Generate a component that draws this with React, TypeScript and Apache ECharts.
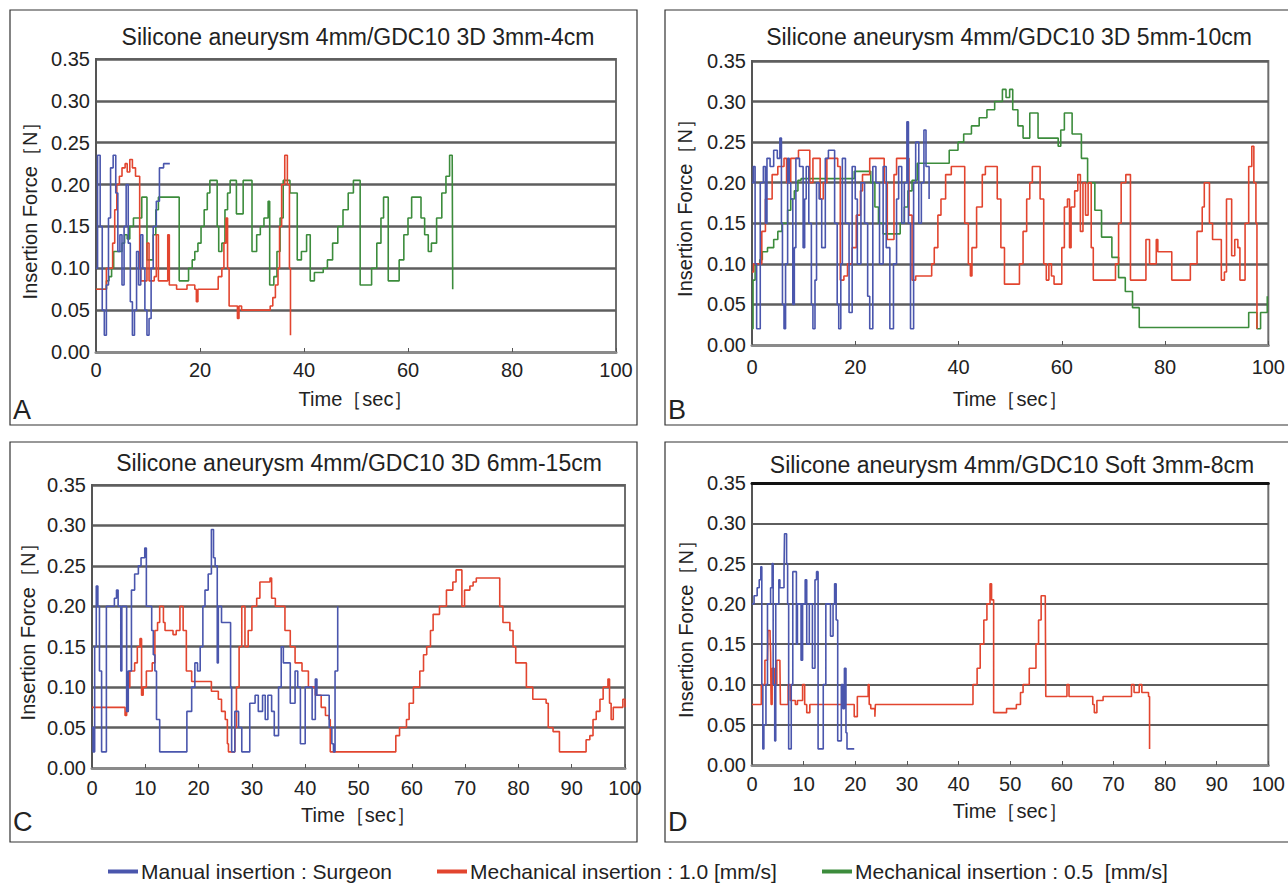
import React, { useEffect, useRef } from "react";
import * as echarts from "echarts";

type P = [number, number];

const TITLES = [
  "Silicone aneurysm 4mm/GDC10 3D 3mm-4cm",
  "Silicone aneurysm 4mm/GDC10 3D 5mm-10cm",
  "Silicone aneurysm 4mm/GDC10 3D 6mm-15cm",
  "Silicone aneurysm 4mm/GDC10 Soft 3mm-8cm",
];
const PANEL_LETTERS = ["A", "B", "C", "D"];
const SERIES_NAMES = [
  "Manual insertion : Surgeon",
  "Mechanical insertion : 1.0 [mm/s]",
  "Mechanical insertion : 0.5  [mm/s]",
];
const X_INTERVALS = [20, 20, 10, 10];

// Panel A
const A_MANUAL: P[] = [[0,0.1],[0.3,0.235],[0.8,0.15],[1.2,0.05],[1.6,0.02],[2.0,0.08],[2.4,0.16],[2.8,0.22],[3.3,0.235],[3.8,0.19],[4.2,0.12],[4.6,0.14],[5.0,0.08],[5.4,0.15],[5.8,0.2],[6.2,0.13],[6.6,0.06],[7.0,0.02],[7.4,0.05],[7.8,0.12],[8.2,0.08],[8.6,0.14],[9.0,0.1],[9.4,0.05],[9.8,0.02],[10.2,0.04],[10.6,0.1],[11.0,0.15],[11.6,0.18],[12.2,0.22],[12.6,0.22],[13.0,0.225],[14.2,0.225]];
const A_MECH10: P[] = [[0,0.075],[1.5,0.075],[2,0.1],[2.8,0.1],[3.2,0.13],[3.6,0.17],[4.0,0.2],[4.5,0.21],[5.0,0.22],[5.6,0.225],[6.0,0.215],[6.5,0.23],[7.0,0.22],[7.6,0.21],[8.0,0.21],[8.4,0.1],[8.6,0.085],[9.4,0.085],[9.8,0.13],[10.2,0.085],[11.2,0.09],[11.6,0.14],[12,0.085],[13.5,0.085],[13.8,0.14],[14.1,0.08],[15.5,0.075],[17.5,0.08],[18.5,0.08],[19,0.075],[19.3,0.06],[19.6,0.075],[23,0.075],[23.5,0.09],[24.2,0.1],[24.6,0.13],[25,0.16],[25.3,0.1],[25.6,0.055],[27,0.055],[27.2,0.04],[27.5,0.055],[28,0.05],[33.5,0.055],[34,0.065],[34.5,0.08],[35,0.1],[35.3,0.15],[35.7,0.2],[36.3,0.235],[36.8,0.2],[37.2,0.1],[37.4,0.02]];
const A_MECH05: P[] = [[0,0.075],[1.7,0.075],[2,0.085],[2.5,0.09],[3,0.1],[3.4,0.12],[4.5,0.12],[5,0.13],[5.5,0.14],[6,0.135],[6.5,0.15],[7.2,0.16],[8,0.16],[8.8,0.185],[9.6,0.185],[9.8,0.11],[10.5,0.11],[11,0.14],[11.5,0.17],[12,0.185],[15.8,0.185],[16,0.085],[17.4,0.085],[17.8,0.1],[18.5,0.11],[19,0.12],[19.6,0.13],[20.2,0.15],[20.8,0.17],[21.4,0.19],[21.9,0.205],[23.1,0.205],[23.3,0.15],[23.6,0.12],[24.2,0.13],[24.8,0.17],[25.3,0.19],[25.8,0.205],[26.8,0.205],[27.0,0.165],[28.0,0.165],[28.3,0.205],[29.8,0.205],[30,0.12],[30.9,0.14],[31.6,0.15],[32.3,0.16],[33.1,0.18],[33.4,0.08],[34.2,0.09],[34.8,0.12],[35.4,0.16],[36,0.205],[37.3,0.19],[38.5,0.19],[38.7,0.11],[39.5,0.12],[40.5,0.14],[41,0.14],[41.2,0.085],[42,0.095],[43,0.095],[43.7,0.1],[44.5,0.11],[45.5,0.13],[46.5,0.15],[47.5,0.17],[48.5,0.19],[49.5,0.205],[50.6,0.205],[50.8,0.08],[52.1,0.08],[53,0.1],[54,0.13],[54.8,0.16],[55.3,0.185],[56,0.185],[56.2,0.085],[57.5,0.085],[58.3,0.11],[59.2,0.14],[60,0.16],[60.7,0.185],[61.8,0.185],[62.5,0.16],[63.2,0.14],[63.9,0.12],[64.5,0.13],[65.5,0.16],[66.5,0.19],[67.3,0.21],[68,0.235],[68.5,0.235],[68.6,0.075]];

// Panel B
const B_MANUAL: P[] = [[0,0.2],[0.26,0.22],[0.6,0.1],[0.9,0.02],[1.2,0.02],[1.6,0.2],[2.2,0.22],[2.6,0.15],[2.9,0.23],[3.5,0.22],[4.2,0.24],[4.9,0.23],[5.4,0.255],[5.7,0.15],[5.9,0.05],[6.2,0.02],[6.5,0.1],[6.9,0.23],[7.2,0.2],[7.5,0.18],[7.9,0.05],[8.2,0.12],[8.5,0.23],[9.2,0.22],[9.9,0.12],[10.2,0.18],[10.5,0.22],[11,0.15],[11.5,0.05],[11.8,0.02],[12.2,0.08],[12.5,0.2],[13,0.18],[13.5,0.12],[14.2,0.23],[14.8,0.24],[15.5,0.24],[16,0.15],[16.5,0.05],[16.8,0.02],[17.2,0.1],[17.5,0.23],[18.1,0.15],[18.8,0.04],[19.4,0.22],[20,0.18],[20.4,0.1],[21.1,0.2],[21.8,0.15],[22.4,0.06],[22.8,0.02],[23.4,0.22],[24,0.2],[24.7,0.1],[25.4,0.22],[26,0.12],[26.7,0.02],[27.4,0.1],[28,0.18],[28.4,0.22],[29,0.15],[29.5,0.2],[30,0.275],[30.3,0.15],[30.7,0.02],[31.3,0.2],[31.7,0.25],[32.3,0.15],[32.8,0.2],[33.3,0.265],[33.7,0.22],[34.3,0.18]];
const B_MECH10: P[] = [[0,0.09],[0.3,0.1],[1.0,0.1],[1.9,0.14],[2.6,0.18],[3.6,0.18],[3.9,0.21],[5,0.22],[6.2,0.23],[6.7,0.2],[7.2,0.2],[7.5,0.23],[9,0.24],[10.8,0.24],[11.2,0.2],[11.8,0.23],[12.8,0.23],[13.2,0.18],[13.8,0.2],[14.5,0.23],[16.1,0.23],[16.6,0.22],[17.1,0.08],[17.8,0.085],[18.5,0.1],[19.4,0.12],[20.2,0.16],[21,0.19],[21.4,0.21],[22.8,0.23],[25.4,0.23],[25.6,0.2],[26.2,0.13],[27.1,0.13],[27.5,0.21],[28,0.23],[30,0.23],[30.4,0.16],[31.0,0.08],[31.7,0.085],[34.0,0.085],[34.8,0.1],[35.3,0.12],[36,0.16],[36.6,0.18],[37.5,0.21],[38.6,0.22],[40.6,0.22],[41.2,0.15],[41.9,0.1],[42.3,0.085],[42.6,0.12],[43.5,0.17],[44.6,0.21],[45.2,0.22],[46.9,0.22],[47.5,0.18],[48.2,0.12],[48.9,0.075],[51.2,0.075],[51.8,0.1],[52.5,0.14],[53.2,0.18],[53.8,0.2],[54.3,0.22],[55.2,0.22],[55.8,0.18],[56.5,0.1],[57,0.08],[57.5,0.1],[58,0.085],[58.5,0.075],[59.5,0.075],[60,0.12],[60.5,0.17],[61.1,0.18],[61.5,0.12],[61.8,0.17],[62.5,0.19],[63.1,0.21],[63.6,0.14],[64.1,0.2],[64.6,0.16],[65.1,0.2],[65.7,0.12],[66.1,0.08],[69.7,0.08],[70.4,0.1],[71,0.15],[71.5,0.2],[72.4,0.21],[73.0,0.21],[73.3,0.08],[76.0,0.08],[76.3,0.13],[77,0.1],[78,0.1],[78.3,0.13],[78.6,0.115],[81,0.115],[81.3,0.08],[84.3,0.08],[84.9,0.1],[86.2,0.14],[87.2,0.17],[87.6,0.2],[88.2,0.2],[88.6,0.15],[89.2,0.13],[90.5,0.13],[90.9,0.08],[91.5,0.09],[91.9,0.18],[92.5,0.18],[92.9,0.11],[93.5,0.13],[94.1,0.12],[94.5,0.08],[95.2,0.08],[95.5,0.15],[96.2,0.22],[96.8,0.245],[97.2,0.2],[97.6,0.15],[97.8,0.02]];
const B_MECH05: P[] = [[0,0.02],[0.2,0.08],[0.6,0.1],[1.5,0.105],[2,0.115],[3,0.12],[4.2,0.13],[5,0.14],[5.8,0.15],[6.9,0.166],[7.5,0.18],[8.2,0.19],[8.9,0.203],[9.5,0.205],[19.4,0.205],[19.8,0.214],[22.5,0.214],[23,0.2],[23.8,0.17],[24.5,0.15],[25.4,0.137],[28.0,0.137],[28.7,0.15],[29.5,0.17],[30.2,0.19],[31.0,0.203],[32.0,0.224],[37.3,0.224],[38.2,0.24],[39.9,0.25],[41,0.26],[42.5,0.27],[44,0.28],[45.5,0.29],[47,0.3],[48.5,0.315],[49.2,0.305],[49.9,0.315],[50.5,0.29],[51.5,0.27],[52.5,0.255],[53.2,0.255],[53.8,0.286],[54.8,0.286],[55.4,0.255],[59.1,0.255],[59.3,0.245],[59.8,0.265],[60.5,0.286],[61.3,0.286],[62,0.26],[63.8,0.23],[65,0.2],[66.4,0.166],[67.7,0.133],[69.7,0.108],[71,0.083],[72.3,0.066],[73.7,0.046],[75,0.0215],[95.8,0.0215],[96.2,0.04],[97.5,0.04],[97.8,0.02],[98.5,0.04],[99.8,0.06]];

// Panel C
const C_MANUAL: P[] = [[0,0.05],[0.2,0.02],[0.5,0.15],[0.8,0.225],[1.1,0.2],[1.4,0.12],[1.8,0.02],[2.4,0.02],[2.7,0.2],[3.5,0.2],[4.2,0.21],[4.6,0.22],[4.9,0.2],[5.4,0.12],[5.6,0.2],[6.0,0.2],[6.5,0.07],[6.8,0.12],[7.4,0.22],[8,0.24],[8.7,0.25],[9.2,0.26],[9.6,0.26],[9.9,0.272],[10.2,0.2],[10.8,0.2],[11.2,0.17],[11.5,0.14],[11.8,0.12],[12.1,0.06],[12.7,0.02],[17.4,0.02],[17.8,0.07],[18.7,0.1],[19.3,0.13],[19.8,0.12],[20.3,0.15],[20.8,0.2],[21.2,0.22],[21.8,0.24],[22.4,0.295],[22.8,0.26],[23.1,0.25],[23.5,0.13],[23.7,0.2],[24.3,0.18],[25.6,0.18],[26,0.1],[26.2,0.02],[26.8,0.07],[27.5,0.05],[28.1,0.02],[29.3,0.02],[29.6,0.08],[30.6,0.09],[31.2,0.07],[32,0.09],[32.5,0.06],[33,0.09],[33.7,0.07],[34.2,0.04],[34.7,0.04],[35.0,0.1],[35.5,0.15],[35.9,0.13],[36.9,0.13],[37.2,0.08],[38.1,0.12],[38.6,0.1],[39.1,0.03],[39.4,0.03],[40,0.1],[40.9,0.1],[41.3,0.06],[41.9,0.11],[42.2,0.09],[44.1,0.09],[44.5,0.05],[45,0.03],[45.3,0.02],[45.6,0.12],[46.1,0.2]];
const C_MECH10: P[] = [[0,0.075],[5.8,0.075],[6.2,0.065],[6.5,0.07],[6.8,0.1],[7.1,0.12],[8.0,0.13],[8.5,0.15],[9.0,0.16],[9.3,0.09],[9.6,0.1],[10.2,0.12],[10.8,0.12],[11.3,0.13],[11.8,0.17],[12.3,0.18],[12.7,0.2],[13.4,0.18],[13.7,0.17],[15.2,0.165],[15.8,0.17],[16.5,0.2],[17.1,0.17],[17.7,0.12],[18.7,0.107],[21.8,0.107],[22.4,0.095],[23.7,0.085],[24.3,0.07],[25.0,0.06],[25.4,0.03],[25.6,0.02],[26.2,0.02],[26.8,0.05],[27.1,0.1],[27.6,0.15],[28.1,0.2],[28.7,0.15],[29.3,0.17],[30.0,0.2],[30.9,0.21],[31.5,0.23],[33.1,0.23],[33.4,0.235],[33.7,0.21],[34.4,0.2],[35.6,0.2],[36.2,0.17],[37.2,0.15],[38.1,0.13],[39.4,0.12],[40.6,0.1],[41.9,0.09],[43,0.075],[43.8,0.065],[44.5,0.06],[44.7,0.02],[56.5,0.02],[57,0.04],[57.7,0.05],[59.0,0.06],[59.5,0.08],[60.3,0.1],[61.5,0.12],[62.2,0.14],[62.8,0.15],[63.5,0.17],[64,0.19],[65.2,0.2],[66.5,0.22],[67.7,0.23],[68.3,0.245],[69,0.245],[69.4,0.2],[69.9,0.22],[70.9,0.225],[71.5,0.23],[72.1,0.235],[75.9,0.235],[76.5,0.2],[77.1,0.18],[78.4,0.17],[79,0.15],[79.5,0.13],[80.2,0.13],[81.5,0.1],[82.7,0.085],[85.2,0.08],[85.6,0.05],[86.5,0.045],[87.7,0.02],[92.1,0.02],[92.7,0.035],[93.4,0.04],[94,0.06],[94.6,0.07],[95.3,0.085],[95.9,0.1],[96.8,0.11],[97.1,0.08],[97.4,0.06],[97.8,0.075],[99.3,0.075],[99.6,0.085],[100,0.075]];

// Panel D
const D_MANUAL: P[] = [[0,0.2],[0.4,0.21],[1.0,0.22],[1.4,0.23],[1.7,0.246],[1.9,0.1],[2.1,0.02],[2.3,0.05],[2.7,0.1],[3.0,0.2],[3.6,0.22],[3.9,0.25],[4.1,0.1],[4.4,0.03],[4.6,0.2],[5.2,0.23],[5.4,0.22],[5.8,0.22],[6.2,0.24],[6.3,0.287],[6.7,0.25],[6.9,0.2],[7.1,0.02],[7.4,0.02],[7.6,0.1],[7.9,0.24],[8.4,0.24],[8.6,0.15],[8.8,0.2],[9.3,0.2],[9.5,0.13],[9.8,0.2],[10.3,0.23],[10.6,0.15],[10.9,0.15],[11.1,0.2],[11.5,0.2],[11.7,0.12],[12.2,0.23],[12.5,0.24],[12.8,0.02],[13.5,0.02],[13.8,0.1],[14.1,0.1],[14.3,0.2],[14.7,0.2],[15.2,0.16],[15.7,0.2],[16.0,0.225],[16.3,0.18],[16.6,0.03],[16.9,0.03],[17.3,0.1],[17.6,0.07],[17.9,0.12],[18.2,0.04],[18.4,0.02],[19.8,0.02]];
const D_MECH10: P[] = [[0,0.075],[1.6,0.075],[1.8,0.1],[2.3,0.1],[2.5,0.13],[3.0,0.13],[3.1,0.167],[3.5,0.16],[3.6,0.14],[3.7,0.075],[3.9,0.12],[4.3,0.1],[4.6,0.1],[4.8,0.13],[5.4,0.13],[5.5,0.075],[6.8,0.075],[7.0,0.1],[7.4,0.08],[8.4,0.075],[8.8,0.08],[9.6,0.08],[9.8,0.1],[10.0,0.1],[10.2,0.075],[10.6,0.065],[11.2,0.075],[19.5,0.075],[19.8,0.06],[20.1,0.06],[20.4,0.085],[22.3,0.085],[22.5,0.1],[22.7,0.075],[23.0,0.07],[23.6,0.07],[23.8,0.06],[23.9,0.075],[42.3,0.075],[42.8,0.1],[43.6,0.12],[44.2,0.15],[44.9,0.18],[45.5,0.2],[46.1,0.225],[46.4,0.205],[46.8,0.065],[49.3,0.07],[51.2,0.075],[52.0,0.09],[52.5,0.1],[53.7,0.12],[55.0,0.15],[55.5,0.18],[56.0,0.21],[56.8,0.21],[56.9,0.085],[60.7,0.085],[61.0,0.1],[61.4,0.085],[65.5,0.085],[66,0.075],[66.3,0.065],[66.8,0.08],[68,0.085],[73,0.085],[73.5,0.1],[74,0.09],[75,0.1],[75.5,0.09],[76.8,0.085],[77,0.02]];

const PANEL_DATA: { manual: P[]; mech10: P[]; mech05: P[] | null }[] = [
  { manual: A_MANUAL, mech10: A_MECH10, mech05: A_MECH05 },
  { manual: B_MANUAL, mech10: B_MECH10, mech05: B_MECH05 },
  { manual: C_MANUAL, mech10: C_MECH10, mech05: null },
  { manual: D_MANUAL, mech10: D_MECH10, mech05: null },
];

const COLORS = ["#4a56ad", "#e2452f", "#3c8c3c"];
const FONT = '"Liberation Sans", Arial, sans-serif';

// layout
const GRIDS = [
  { left: 96, top: 59, width: 520, height: 293 },
  { left: 752, top: 61, width: 520, height: 284 },
  { left: 92, top: 485, width: 533, height: 283 },
  { left: 752, top: 483, width: 520, height: 282 },
];
const BOXES = [
  { x: 10, y: 10, w: 627, h: 415 },
  { x: 665, y: 10, w: 640, h: 415 },
  { x: 10, y: 442, w: 627, h: 400 },
  { x: 665, y: 442, w: 640, h: 400 },
];
const TITLE_POS = [[358, 37], [1009, 37], [359, 463], [1012, 465]];
const LETTER_POS = [[13, 410], [668, 410], [13, 822], [668, 822]];
const X_LABEL_MARGIN = [8, 12, 10, 9];
const X_NAME_GAP = [37, 44, 37, 36];
const Y_NAME_GAP = [56, 57, 54, 56];

export default function App() {
  const ref = useRef<HTMLDivElement>(null);
  useEffect(() => {
    if (!ref.current) return;
    const chart = echarts.init(ref.current, undefined, { renderer: "svg" });

    const xAxes: any[] = [];
    const yAxes: any[] = [];
    const series: any[] = [];
    GRIDS.forEach((_, i) => {
      xAxes.push({
        type: "value",
        gridIndex: i,
        min: 0,
        max: 100,
        interval: X_INTERVALS[i],
        name: "Time［sec］",
        nameLocation: "middle",
        nameGap: X_NAME_GAP[i],
        nameTextStyle: { fontSize: 20, color: "#222", fontFamily: FONT },
        axisLine: { show: true, lineStyle: { color: "#8a8a8a", width: 3 } },
        axisTick: { show: true, inside: true, length: 4, lineStyle: { color: "#555", width: 1 } },
        axisLabel: { fontSize: 20, color: "#222", fontFamily: FONT, margin: X_LABEL_MARGIN[i] },
        splitLine: { show: false },
      });
      yAxes.push({
        type: "value",
        gridIndex: i,
        min: 0,
        max: 0.35,
        interval: 0.05,
        name: "Insertion Force［N］",
        nameLocation: "middle",
        nameGap: Y_NAME_GAP[i],
        nameTextStyle: { fontSize: 20, color: "#222", fontFamily: FONT },
        axisLine: { show: true, lineStyle: { color: "#555", width: 2 } },
        axisTick: { show: false },
        axisLabel: {
          fontSize: 20,
          color: "#222",
          fontFamily: FONT,
          margin: 6,
          formatter: (v: number) => v.toFixed(2),
        },
        splitLine: { show: true, lineStyle: { color: "#5e5e5e", width: i === 3 ? 2 : 2.5 } },
      });
      const d = PANEL_DATA[i];
      const items: [P[] | null, number][] = [
        [d.mech05, 2],
        [d.mech10, 1],
        [d.manual, 0],
      ];
      items.forEach(([data, k]) => {
        if (!data) return;
        series.push({
          type: "line",
          name: SERIES_NAMES[k],
          xAxisIndex: i,
          yAxisIndex: i,
          data,
          step: "end",
          symbol: "none",
          showSymbol: false,
          lineStyle: { color: COLORS[k], width: 1.6 },
          itemStyle: { color: COLORS[k] },
          z: 3,
        });
      });
    });
    // thick black top frame for panel D
    xAxes.push({
      type: "value",
      gridIndex: 3,
      position: "top",
      min: 0,
      max: 100,
      axisLine: { show: true, lineStyle: { color: "#111", width: 3 } },
      axisTick: { show: false },
      axisLabel: { show: false },
      splitLine: { show: false },
    });

    const graphics: any[] = [];
    BOXES.forEach((b) => {
      graphics.push({
        type: "rect",
        shape: { x: b.x, y: b.y, width: b.w, height: b.h },
        style: { fill: "none", stroke: "#333", lineWidth: 1.2 },
        silent: true,
        z: 0,
      });
    });
    TITLES.forEach((t, i) => {
      graphics.push({
        type: "text",
        x: TITLE_POS[i][0],
        y: TITLE_POS[i][1],
        style: {
          text: t,
          font: `23px ${FONT}`,
          fill: "#222",
          align: "center",
          verticalAlign: "middle",
        },
      });
    });
    PANEL_LETTERS.forEach((t, i) => {
      graphics.push({
        type: "text",
        x: LETTER_POS[i][0],
        y: LETTER_POS[i][1],
        style: {
          text: t,
          font: `27px ${FONT}`,
          fill: "#222",
          align: "left",
          verticalAlign: "middle",
        },
      });
    });

    const legendLefts = [108, 437, 822];
    const legends = SERIES_NAMES.map((n, k) => ({
      data: [n],
      left: legendLefts[k],
      top: 861,
      icon: "rect",
      itemWidth: 30,
      itemHeight: 4,
      itemGap: 0,
      padding: 0,
      textStyle: { fontSize: 21, color: "#222", fontFamily: FONT, padding: [0, 0, 0, -2] },
      selectedMode: false,
    }));

    chart.setOption({
      animation: false,
      backgroundColor: "#fff",
      grid: GRIDS.map((g) => ({
        ...g,
        show: true,
        borderColor: "#6e6e6e",
        borderWidth: 2,
        backgroundColor: "transparent",
        containLabel: false,
      })),
      xAxis: xAxes,
      yAxis: yAxes,
      series,
      legend: legends,
      graphic: graphics,
    });
    return () => chart.dispose();
  }, []);
  return (
    <div
      ref={ref}
      style={{ position: "fixed", left: 0, top: 0, width: 1288, height: 883, background: "#fff" }}
    />
  );
}
